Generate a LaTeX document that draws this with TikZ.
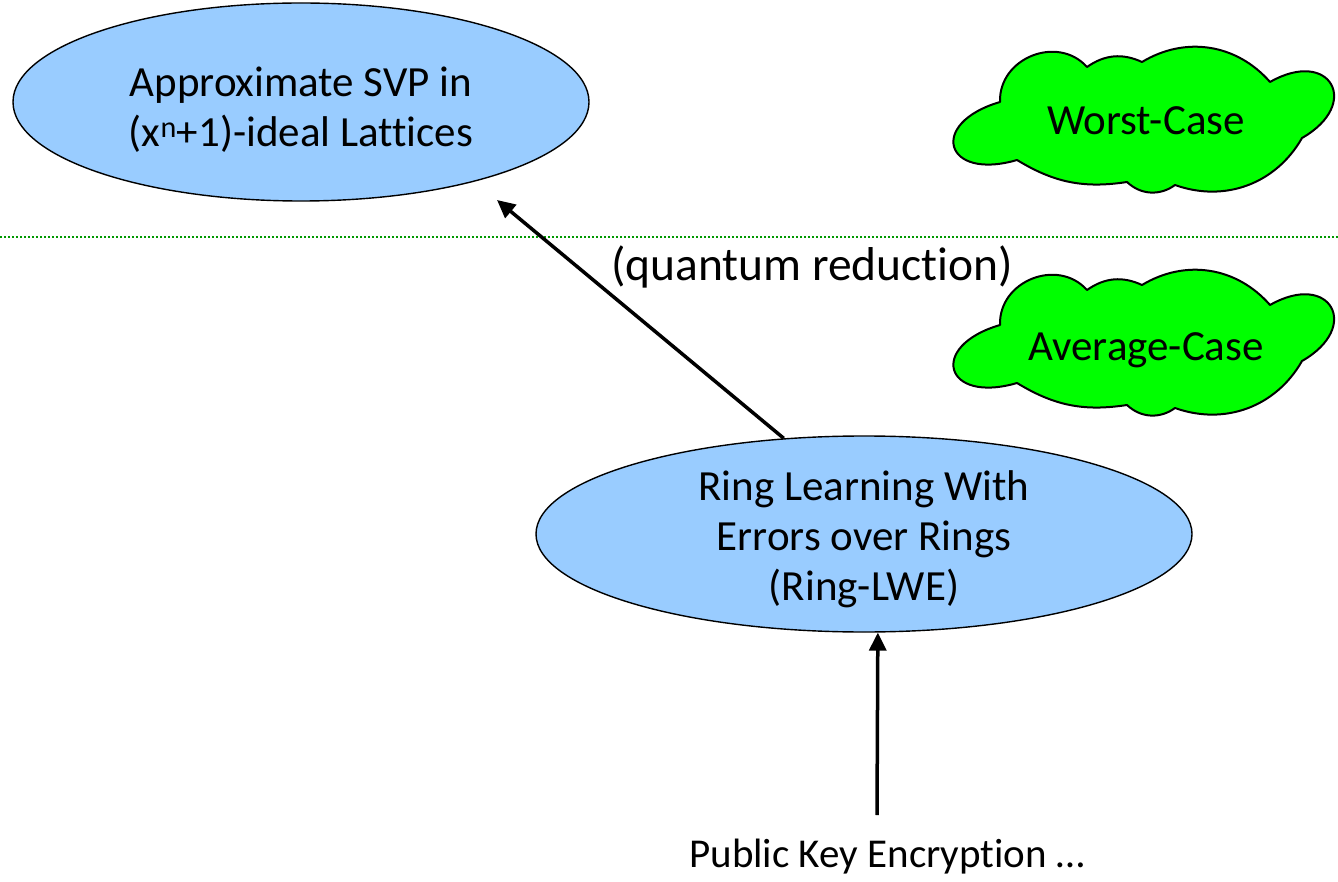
\documentclass[tikz,border=0pt]{standalone}
\usepackage{fontspec}
\setmainfont[Ligatures=NoCommon]{Carlito}
\usetikzlibrary{shapes.geometric,arrows.meta}
\definecolor{skyfill}{HTML}{99CCFF}
\definecolor{cloudgreen}{HTML}{00FF00}
\definecolor{divider}{HTML}{009900}
\tikzset{
  problem/.style={ellipse, draw=black, line width=1.4pt, fill=skyfill, inner sep=0pt},
  body/.style={font=\fontsize{43}{50}\selectfont, align=center, inner sep=0pt},
  bigbody/.style={font=\fontsize{47.5}{54}\selectfont, inner sep=0pt},
  reduction/.style={-{Triangle[length=18pt,width=17pt]}, line width=3.5pt},
  puff/.style={draw=black, line width=2pt, fill=cloudgreen, line join=round},
  pics/cloudblob/.style={code={
    \draw[puff] (-145,18) to[bend left=70,looseness=1.2] (-58,53)
      to[bend left=30] (-3,58)
      to[bend left=40] (125,38)
      to[bend left=90,looseness=2.75] (157,-18)
      to[bend left=40] (30,-65)
      to[bend left=40] (-18,-62)
      to[bend left=20] (-128,-40)
      to[bend left=90,looseness=3.2] (-145,18) -- cycle;
  }}
}
\begin{document}
\begin{tikzpicture}[x=1pt,y=1pt]
\useasboundingbox (0,0) rectangle (1338,-882);

% divider between worst-case and average-case problems
\coordinate (divL) at (0,-237);
\coordinate (divR) at (1338,-237);
\draw[divider, line width=1.6pt, dash pattern=on 2pt off 2pt] (divL) -- (divR);

% worst-case problem
\node[problem, minimum width=576pt, minimum height=198pt] (svp) at (301,-102) {};
\node[body] (svptext) at (301,-110) {Approximate SVP in\\(x\textsuperscript{n}+1)-ideal Lattices};

% average-case problem
\node[problem, minimum width=656pt, minimum height=196pt] (rlwe) at (864,-534) {};
\node[body] (rlwetext) at (864,-539) {Ring Learning With\\Errors over Rings\\(Ring-LWE)};

% clouds
\pic at (1145,-120) {cloudblob};
\begin{scope}[shift={(1145,-343)}, yscale=0.94]
  \pic at (0,0) {cloudblob};
\end{scope}
\node[body, anchor=base] (worst) at (1146,-135) {Worst-Case};
\node[body, anchor=base] (avg) at (1146,-360) {Average-Case};

% reductions
\coordinate (svpend) at (497,-200);
\draw[reduction] (rlwe.130.5) -- (svpend);
\node[bigbody, anchor=base] (quantum) at (812,-281) {(quantum reduction)};

\node[body, font=\fontsize{41}{50}\selectfont, anchor=base] (pke) at (887,-867) {Public Key Encryption …};
\coordinate (pkestart) at (877,-815);
\draw[reduction] (pkestart) -- (rlwe.-82.4);
\end{tikzpicture}
\end{document}
